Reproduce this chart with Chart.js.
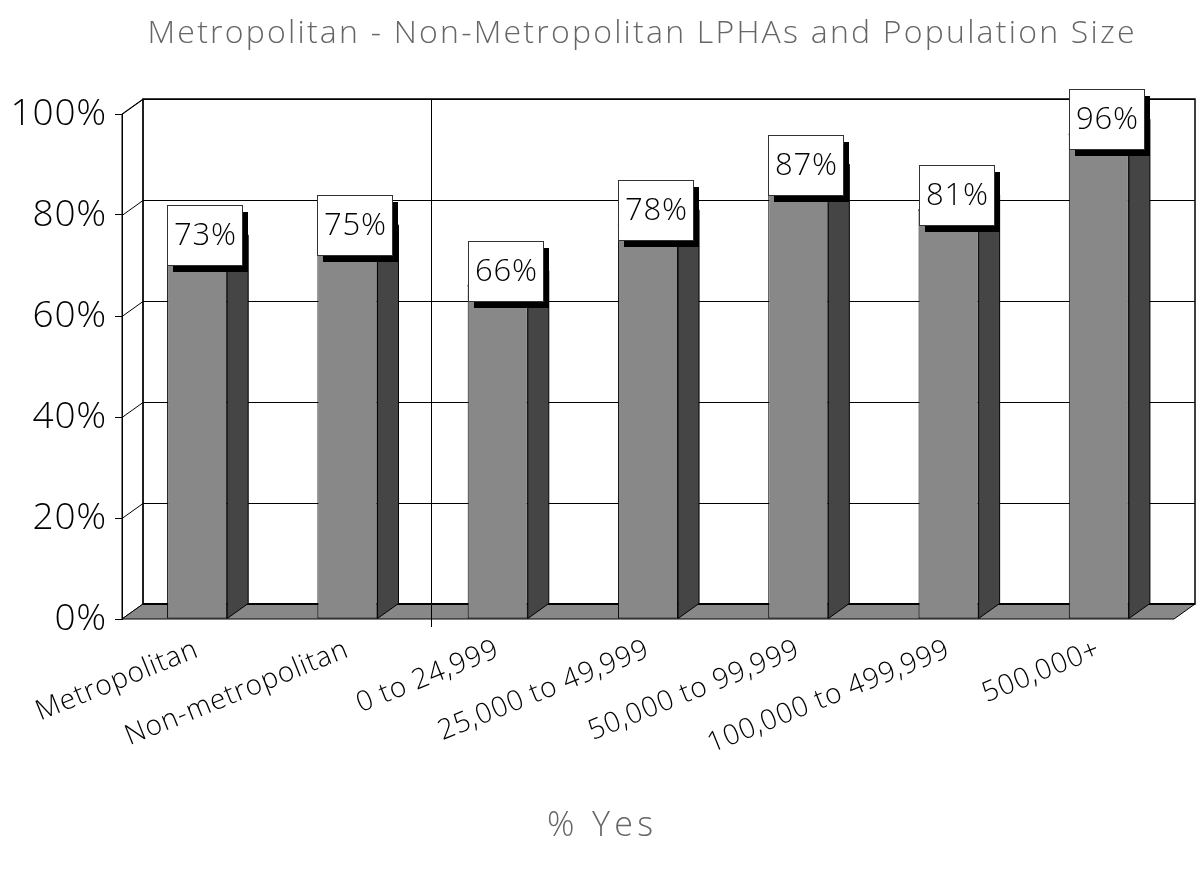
<!DOCTYPE html>
<html>
<head>
<meta charset="utf-8">
<title>Metropolitan - Non-Metropolitan LPHAs and Population Size</title>
<script src="https://cdn.jsdelivr.net/npm/chart.js@4.4.0/dist/chart.umd.min.js"></script>
<style>
    html, body { margin: 0; padding: 0; background: #fff; }
    #wrap { width: 1199px; height: 870px; }
</style>
</head>
<body>
<div id="wrap"><canvas id="chart" width="1199" height="870"></canvas></div>
<script>
// chart data
const categories = ['Metropolitan', 'Non-metropolitan', '0 to 24,999', '25,000 to 49,999',
    '50,000 to 99,999', '100,000 to 499,999', '500,000+'];
const yesPercent = [73, 75, 66, 78, 87, 81, 96];
const yTickValues = [0, 20, 40, 60, 80, 100];
const chartTitle = 'Metropolitan - Non-Metropolitan LPHAs and Population Size';
const axisTitle = '% Yes';

const FONT = "'Open Sans', 'DejaVu Sans', sans-serif";
const DEPTH_X = 21;
const DEPTH_Y = 15;
const SPACING = '0.8px';

// text stretched to a given width with letter spacing
function drawSpacedText(ctx, text, cx, cy, font, targetWidth) {
    ctx.font = font;
    ctx.letterSpacing = '0px';
    const w = ctx.measureText(text).width;
    const gap = Math.max(0, (targetWidth - w) / (text.length - 1));
    ctx.letterSpacing = gap + 'px';
    ctx.textAlign = 'left';
    ctx.fillText(text, cx - targetWidth / 2, cy);
    ctx.letterSpacing = '0px';
}

// draws the fake 3d walls, floor, bar sides and label boxes
const threeD = {
    id: 'threeD',
    beforeDraw(chart) {
        // slightly wider lettering for the axis labels
        chart.ctx.letterSpacing = SPACING;
    },
    beforeDatasetsDraw(chart) {
        const { ctx, chartArea: a, scales: { y } } = chart;
        ctx.save();
        ctx.lineJoin = 'miter';

        // back wall
        ctx.fillStyle = '#ffffff';
        ctx.fillRect(a.left + DEPTH_X, a.top - DEPTH_Y, a.right - a.left, a.bottom - a.top);

        // left side wall
        ctx.beginPath();
        ctx.moveTo(a.left, a.top);
        ctx.lineTo(a.left + DEPTH_X, a.top - DEPTH_Y);
        ctx.lineTo(a.left + DEPTH_X, a.bottom - DEPTH_Y);
        ctx.lineTo(a.left, a.bottom);
        ctx.closePath();
        ctx.fill();
        ctx.strokeStyle = '#000';
        ctx.lineWidth = 1;
        ctx.stroke();

        // gridlines on back wall + side wall
        yTickValues.forEach(v => {
            if (v === 0) return;
            const py = Math.round(y.getPixelForValue(v)) + 0.5;
            ctx.beginPath();
            ctx.moveTo(a.left, py);
            ctx.lineTo(a.left + DEPTH_X, py - DEPTH_Y);
            ctx.lineTo(a.right + DEPTH_X, py - DEPTH_Y);
            ctx.stroke();
        });

        // back wall border
        ctx.lineWidth = 1.5;
        ctx.strokeRect(a.left + DEPTH_X, a.top - DEPTH_Y, a.right - a.left, a.bottom - a.top);

        // floor
        ctx.beginPath();
        ctx.moveTo(a.left, a.bottom);
        ctx.lineTo(a.left + DEPTH_X, a.bottom - DEPTH_Y);
        ctx.lineTo(a.right + DEPTH_X, a.bottom - DEPTH_Y);
        ctx.lineTo(a.right, a.bottom);
        ctx.closePath();
        ctx.fillStyle = '#888888';
        ctx.fill();
        ctx.lineWidth = 1;
        ctx.stroke();
        ctx.lineWidth = 2;
        ctx.beginPath();
        ctx.moveTo(a.left + DEPTH_X, a.bottom - DEPTH_Y);
        ctx.lineTo(a.right + DEPTH_X, a.bottom - DEPTH_Y);
        ctx.stroke();

        // front axis line
        ctx.lineWidth = 1;
        ctx.beginPath();
        ctx.moveTo(a.left + 0.5, a.top);
        ctx.lineTo(a.left + 0.5, a.bottom);
        ctx.stroke();
        ctx.restore();
    },

    afterDatasetsDraw(chart) {
        const { ctx, chartArea: a, scales: { x } } = chart;
        const bars = chart.getDatasetMeta(0).data;
        ctx.save();
        ctx.strokeStyle = '#000';
        ctx.lineWidth = 1;

        bars.forEach(bar => {
            const { x: cx, y: top, base, width } = bar.getProps(['x', 'y', 'base', 'width'], true);
            const l = cx - width / 2;
            const r = cx + width / 2;

            // right side face
            ctx.beginPath();
            ctx.moveTo(r, top);
            ctx.lineTo(r + DEPTH_X, top - DEPTH_Y);
            ctx.lineTo(r + DEPTH_X, base - DEPTH_Y);
            ctx.lineTo(r, base);
            ctx.closePath();
            ctx.fillStyle = '#454545';
            ctx.fill();
            ctx.stroke();

            // top face
            ctx.beginPath();
            ctx.moveTo(l, top);
            ctx.lineTo(l + DEPTH_X, top - DEPTH_Y);
            ctx.lineTo(r + DEPTH_X, top - DEPTH_Y);
            ctx.lineTo(r, top);
            ctx.closePath();
            ctx.fillStyle = '#aaaaaa';
            ctx.fill();
            ctx.stroke();
        });

        // separator between the metro split and the population groups
        const sepX = Math.round((x.getPixelForValue(1) + x.getPixelForValue(2)) / 2 + 8) + 0.5;
        ctx.beginPath();
        ctx.moveTo(sepX, a.top - DEPTH_Y);
        ctx.lineTo(sepX, a.bottom + 8);
        ctx.stroke();

        // value label boxes with drop shadow
        ctx.font = '300 31px ' + FONT;
        ctx.textAlign = 'center';
        ctx.textBaseline = 'middle';
        ctx.letterSpacing = SPACING;
        bars.forEach((bar, i) => {
            const { x: cx, y: top, width } = bar.getProps(['x', 'y', 'width'], true);
            const bw = 75, bh = 60;
            const bx = Math.round(cx - width / 2);
            const by = Math.round(top - DEPTH_Y - bh / 2);
            ctx.fillStyle = '#000';
            ctx.fillRect(bx + 6, by + 7, bw, bh);
            ctx.fillStyle = '#fff';
            ctx.fillRect(bx, by, bw, bh);
            ctx.strokeStyle = '#333';
            ctx.strokeRect(bx + 0.5, by + 0.5, bw, bh);
            ctx.fillStyle = '#000';
            ctx.fillText(yesPercent[i] + '%', bx + bw / 2 + 1, by + bh / 2 + 1);
        });
        ctx.letterSpacing = '0px';

        // titles
        ctx.fillStyle = '#666666';
        drawSpacedText(ctx, chartTitle, 641, 34, '300 32px ' + FONT, 987);
        drawSpacedText(ctx, axisTitle, 600, 826, '300 34px ' + FONT, 106);
        ctx.restore();
    }
};

const ctx = document.getElementById('chart').getContext('2d');
const chart = new Chart(ctx, {
    type: 'bar',
    data: {
        labels: categories,
        datasets: [{
            label: '% Yes',
            data: yesPercent,
            backgroundColor: '#888888',
            borderColor: '#000000',
            borderWidth: 1,
            borderSkipped: false,
            categoryPercentage: 1.0,
            barPercentage: 0.4
        }]
    },
    options: {
        responsive: false,
        animation: false,
        devicePixelRatio: 1,
        layout: {
            padding: { top: 114, right: 25, left: 0, bottom: 0 }
        },
        plugins: {
            legend: { display: false },
            title: { display: false },
            tooltip: { enabled: false }
        },
        scales: {
            x: {
                grid: { display: false, drawTicks: false },
                border: { display: false },
                ticks: {
                    color: '#000',
                    font: { family: FONT, size: 28, weight: 300 },
                    minRotation: 22,
                    maxRotation: 22,
                    autoSkip: false,
                    padding: 14
                },
                afterFit(scale) { scale.height = 251; }
            },
            y: {
                min: 0,
                max: 100,
                afterBuildTicks(scale) {
                    scale.ticks = yTickValues.map(v => ({ value: v }));
                },
                grid: {
                    drawOnChartArea: false,
                    drawTicks: true,
                    tickLength: 7,
                    color: '#000'
                },
                border: { display: true, color: '#000' },
                ticks: {
                    color: '#000',
                    font: { family: FONT, size: 37, weight: 300 },
                    padding: 8,
                    callback: v => v + '%'
                },
                afterFit(scale) { scale.width = 122; }
            }
        }
    },
    plugins: [threeD]
});
</script>
</body>
</html>
